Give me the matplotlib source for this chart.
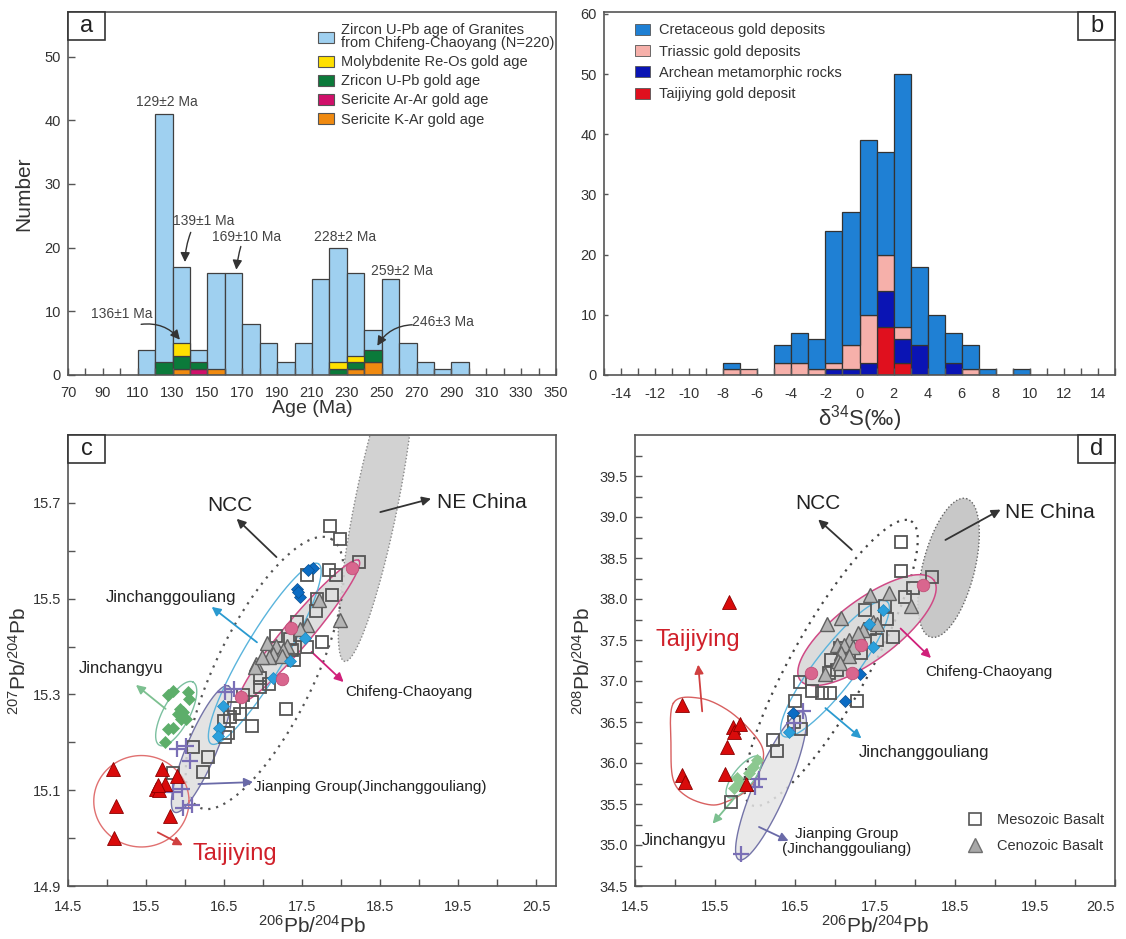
import numpy as np
import matplotlib
matplotlib.use('Agg')
import matplotlib.pyplot as plt
from matplotlib.patches import Rectangle, Patch
from matplotlib.lines import Line2D

plt.rcParams['font.family'] = ['Liberation Sans', 'DejaVu Sans']
plt.rcParams['mathtext.fontset'] = 'custom'
plt.rcParams['mathtext.rm'] = 'Liberation Sans'
plt.rcParams['mathtext.it'] = 'Liberation Sans:italic'
plt.rcParams['axes.unicode_minus'] = False

# ---------------- Panel a data ----------------
age_bins = np.arange(110, 300, 10)
granite_counts = [4, 41, 17, 4, 16, 16, 8, 5, 2, 5, 15, 20, 16, 7, 15, 5, 2, 1, 2]
sericite_kar = [0, 0, 1, 0, 1, 0, 0, 0, 0, 0, 0, 0, 1, 2, 0, 0, 0, 0, 0]
sericite_arar = [0, 0, 0, 1, 0, 0, 0, 0, 0, 0, 0, 0, 0, 0, 0, 0, 0, 0, 0]
zircon_gold = [0, 2, 2, 1, 0, 0, 0, 0, 0, 0, 0, 1, 1, 2, 0, 0, 0, 0, 0]
molybdenite = [0, 0, 2, 0, 0, 0, 0, 0, 0, 0, 0, 1, 1, 0, 0, 0, 0, 0, 0]
age_labels = ['129±2 Ma', '139±1 Ma', '169±10 Ma', '228±2 Ma', '259±2 Ma', '136±1 Ma', '246±3 Ma']

# ---------------- Panel b data ----------------
s_bins = np.arange(-8, 10)
taijiying_s = [0, 0, 0, 0, 0, 0, 0, 0, 0, 8, 2, 0, 0, 0, 0, 0, 0, 0]
archean_s = [0, 0, 0, 0, 0, 0, 1, 1, 2, 6, 4, 5, 0, 2, 0, 0, 0, 0]
triassic_s = [1, 1, 0, 2, 2, 1, 1, 4, 8, 6, 2, 0, 0, 0, 1, 0, 0, 0]
cretaceous_s = [1, 0, 0, 3, 5, 5, 22, 22, 29, 17, 42, 13, 10, 5, 4, 1, 0, 1]

# ---------------- Panel c data (206Pb/204Pb vs 207Pb/204Pb) ----------------
c_tai_x = [15.07, 15.12, 15.09, 15.71, 15.89, 15.63, 15.67, 15.74, 15.80, 15.65]
c_tai_y = [15.145, 15.067, 15.000, 15.145, 15.130, 15.103, 15.100, 15.113, 15.046, 15.110]
c_jcy_x = [15.78, 15.85, 16.04, 16.05, 15.93, 15.97, 15.91, 16.01, 15.95, 15.78, 15.85, 15.74]
c_jcy_y = [15.298, 15.308, 15.306, 15.291, 15.270, 15.263, 15.260, 15.249, 15.249, 15.228, 15.230, 15.200]
c_jp_x = [15.89, 16.01, 16.06, 15.84, 15.96, 15.97, 16.09, 16.51, 16.63]
c_jp_y = [15.186, 15.193, 15.162, 15.096, 15.103, 15.062, 15.069, 15.306, 15.312]
c_jcgl_x = [17.53, 17.34, 17.13, 16.49, 16.44, 16.42]
c_jcgl_y = [15.418, 15.371, 15.334, 15.277, 15.230, 15.214]
c_jcgd_x = [17.64, 17.58, 17.43, 17.47, 17.45]
c_jcgd_y = [15.564, 15.559, 15.521, 15.503, 15.514]
c_cfc_x = [18.14, 17.36, 17.24, 16.72]
c_cfc_y = [15.564, 15.439, 15.333, 15.294]
c_ceno_x = [17.71, 17.98, 17.56, 17.47, 17.05, 17.17, 17.30, 17.25, 17.13, 17.07, 16.91, 16.89, 17.24, 16.98]
c_ceno_y = [15.497, 15.455, 15.446, 15.437, 15.408, 15.401, 15.401, 15.392, 15.385, 15.378, 15.364, 15.357, 15.381, 15.378]
c_meso_x = [17.85, 17.99, 18.23, 17.56, 17.84, 17.93, 17.88, 17.69, 17.68, 17.43, 17.17, 17.34, 17.47, 17.56,
            17.75, 17.37, 17.39, 16.96, 17.07, 16.96, 16.74, 16.86, 16.70, 16.62, 16.50, 16.57, 16.51, 16.55,
            16.86, 17.29, 16.10, 16.29, 16.23, 15.84]
c_meso_y = [15.652, 15.624, 15.577, 15.550, 15.559, 15.550, 15.508, 15.499, 15.474, 15.451, 15.423, 15.416,
            15.425, 15.399, 15.409, 15.392, 15.373, 15.334, 15.322, 15.315, 15.298, 15.284, 15.260, 15.271,
            15.244, 15.253, 15.211, 15.220, 15.234, 15.270, 15.190, 15.169, 15.139, 15.136]

# ---------------- Panel d data (206Pb/204Pb vs 208Pb/204Pb) ----------------
d_tai_x = [15.67, 15.09, 15.09, 15.13, 15.72, 15.74, 15.81, 15.65, 15.63, 15.89]
d_tai_y = [37.96, 36.71, 35.85, 35.77, 36.44, 36.38, 36.48, 36.20, 35.87, 35.75]
d_jcy_x = [16.02, 15.98, 15.92, 15.77, 15.74, 15.81]
d_jcy_y = [36.04, 35.95, 35.88, 35.82, 35.70, 35.76]
d_jp_x = [16.05, 16.00, 16.60, 16.49, 15.83]
d_jp_y = [35.80, 35.71, 36.63, 36.49, 34.89]
d_jcgl_x = [16.42, 17.48, 17.43, 17.60]
d_jcgl_y = [36.38, 37.41, 37.70, 37.87]
d_jcgd_x = [16.47, 17.13, 17.31]
d_jcgd_y = [36.61, 36.76, 37.09]
d_cfc_x = [16.70, 17.21, 17.33, 18.10]
d_cfc_y = [37.10, 37.10, 37.44, 38.17]
d_ceno_x = [17.44, 17.68, 17.08, 16.90, 17.48, 17.53, 17.35, 17.17, 17.02, 17.11, 17.23, 17.08, 17.17,
            17.04, 16.87, 17.06, 17.95, 17.29]
d_ceno_y = [38.05, 38.07, 37.77, 37.70, 37.72, 37.70, 37.62, 37.50, 37.44, 37.44, 37.42, 37.34, 37.30,
            37.24, 37.09, 37.22, 37.91, 37.58]
d_meso_x = [17.82, 17.83, 18.21, 17.97, 17.88, 17.63, 17.38, 17.65, 17.44, 17.52, 17.73, 17.06, 17.33, 17.02,
            16.56, 16.71, 16.84, 16.94, 17.27, 16.50, 16.58, 16.49, 16.23, 16.28, 15.70, 16.93, 15.93, 16.95]
d_meso_y = [38.70, 38.34, 38.27, 38.13, 38.03, 37.91, 37.87, 37.76, 37.63, 37.50, 37.54, 37.40, 37.34, 37.13,
            36.99, 36.88, 36.85, 36.85, 36.76, 36.76, 36.42, 36.50, 36.28, 36.15, 35.53, 37.10, 35.73, 37.26]

# ---------------- colours ----------------
C_GRAN = '#9fd0f0'
C_MO, C_ZRN, C_ARAR, C_KAR = '#ffe000', '#0b7a3a', '#d0106a', '#f08a10'
C_CRET, C_TRI, C_ARCH, C_TAI = '#1f80d4', '#f6b0aa', '#0a14b4', '#e0101e'
C_RED = '#d90b0b'

W, H = 1126, 939
fig = plt.figure(figsize=(W / 100, H / 100), dpi=100)
axa = fig.add_axes([68 / W, 1 - 375 / H, 488 / W, 363 / H])
axb = fig.add_axes([604 / W, 1 - 375 / H, 511 / W, 363 / H])
axc = fig.add_axes([68 / W, 1 - 886 / H, 488 / W, 451 / H])
axd = fig.add_axes([635 / W, 1 - 886 / H, 480 / W, 451 / H])


def panel_label(ax, s, wpx, hpx, right=False):
    w, h = 37 / wpx, 28 / hpx
    x0 = 1 - w if right else 0
    ax.add_patch(Rectangle((x0, 1 - h), w, h, transform=ax.transAxes, fc='white', ec='#333333',
                           lw=1.2, zorder=20, clip_on=False))
    ax.text(x0 + w / 2, 1 - h / 2, s, transform=ax.transAxes, ha='center', va='center',
            fontsize=17, color='#222222', zorder=21)


def style(ax, xpad=4):
    for sp in ax.spines.values():
        sp.set_color('#555555')
        sp.set_linewidth(1.2)
    ax.tick_params(which='both', direction='in', length=5, width=1, color='#555555',
                   labelsize=10.5, labelcolor='#333333', top=False, right=False)
    ax.tick_params(axis='x', which='both', pad=xpad)
    ax.tick_params(axis='y', which='both', pad=5)


# ================= Panel a =================
style(axa, xpad=8)
axa.bar(age_bins, granite_counts, width=10, align='edge', color=C_GRAN, edgecolor='#404040', lw=0.9)
bot = np.zeros(len(age_bins))
for vals, col in [(sericite_kar, C_KAR), (sericite_arar, C_ARAR), (zircon_gold, C_ZRN), (molybdenite, C_MO)]:
    v = np.array(vals, float)
    m = v > 0
    axa.bar(age_bins[m], v[m], bottom=bot[m], width=10, align='edge', color=col, edgecolor='#404040', lw=0.9)
    bot += v
axa.set_xlim(70, 350)
axa.set_ylim(0, 57)
axa.set_xticks(np.arange(70, 351, 20))
axa.set_xticks(np.arange(80, 350, 20), minor=True)
axa.set_yticks(np.arange(0, 51, 10))
axa.set_xlabel('Age (Ma)', fontsize=14, color='#333333', labelpad=0)
axa.set_ylabel('Number', fontsize=15, color='#333333', labelpad=8)
tk = dict(fontsize=10, color='#444444', ha='center', va='center')
axa.text(126.6, 42.8, age_labels[0], **tk)
axa.text(147.6, 24.2, age_labels[1], **tk)
axa.text(172.5, 21.6, age_labels[2], **tk)
axa.text(228.9, 21.6, age_labels[3], **tk)
axa.text(261.4, 16.4, age_labels[4], **tk)
axa.text(100.8, 9.6, age_labels[5], **tk)
axa.text(285.3, 8.4, age_labels[6], **tk)
ap = dict(arrowstyle='-|>', color='#333333', lw=1.0, mutation_scale=14)
axa.annotate('', xy=(137.1, 17.3), xytext=(141.0, 22.8), arrowprops=dict(ap, connectionstyle='arc3,rad=0.1'))
axa.annotate('', xy=(166.4, 16.1), xytext=(169.6, 20.6), arrowprops=dict(ap, connectionstyle='arc3,rad=0.05'))
axa.annotate('', xy=(135.2, 5.2), xytext=(110.4, 7.9), arrowprops=dict(ap, connectionstyle='arc3,rad=-0.3'))
axa.annotate('', xy=(246.7, 4.2), xytext=(269.1, 7.9), arrowprops=dict(ap, connectionstyle='arc3,rad=0.3'))
hand_a = [Patch(fc=C_GRAN, ec='#555555', lw=0.8), Patch(fc=C_MO, ec='#555555', lw=0.8),
          Patch(fc=C_ZRN, ec='#555555', lw=0.8), Patch(fc=C_ARAR, ec='#555555', lw=0.8),
          Patch(fc=C_KAR, ec='#555555', lw=0.8)]
lab_a = ['Zircon U-Pb age of Granites\nfrom Chifeng-Chaoyang (N=220)', 'Molybdenite Re-Os gold age',
         'Zricon U-Pb gold age', 'Sericite Ar-Ar gold age', 'Sericite K-Ar gold age']
leg = axa.legend(hand_a, lab_a, loc='upper left', bbox_to_anchor=(0.50, 0.985), frameon=False,
                 fontsize=10.5, handlelength=1.1, handleheight=0.8, handletextpad=0.5, labelspacing=0.35,
                 borderaxespad=0)
for t in leg.get_texts():
    t.set_color('#333333')
    t.set_linespacing(0.9)
panel_label(axa, 'a', 488, 363)

# ================= Panel b =================
style(axb, xpad=9)
bot = np.zeros(len(s_bins))
for vals, col in [(taijiying_s, C_TAI), (archean_s, C_ARCH), (triassic_s, C_TRI), (cretaceous_s, C_CRET)]:
    v = np.array(vals, float)
    m = v > 0
    axb.bar(s_bins[m], v[m], bottom=bot[m], width=1, align='edge', color=col, edgecolor='#333333', lw=0.9)
    bot += v
axb.set_xlim(-15, 15)
axb.set_ylim(0, 60.3)
axb.set_xticks(np.arange(-14, 15, 2))
axb.set_xticks(np.arange(-15, 16, 1), minor=True)
axb.set_yticks(np.arange(0, 61, 10))
axb.tick_params(axis='y', length=3)
axb.set_xlabel('δ$^{34}$S(‰)', fontsize=16, color='#333333', labelpad=1)
hand_b = [Patch(fc=C_CRET, ec='#555555', lw=0.6), Patch(fc=C_TRI, ec='#555555', lw=0.6),
          Patch(fc=C_ARCH, ec='#555555', lw=0.6), Patch(fc=C_TAI, ec='#555555', lw=0.6)]
lab_b = ['Cretaceous gold deposits', 'Triassic gold deposits', 'Archean metamorphic rocks', 'Taijiying gold deposit']
leg = axb.legend(hand_b, lab_b, loc='upper left', bbox_to_anchor=(0.05, 0.985), frameon=False,
                 fontsize=10.5, handlelength=1.0, handleheight=0.8, handletextpad=0.6, labelspacing=0.5,
                 borderaxespad=0)
for t in leg.get_texts():
    t.set_color('#333333')
panel_label(axb, 'b', 511, 363, right=True)


# ================= helpers for c/d =================
def ellipse(ax, c, u, v, fc='none', ec='k', lw=1.0, ls='-', z=1, alpha=1.0):
    t = np.linspace(0, 2 * np.pi, 300)
    x = c[0] + u[0] * np.cos(t) + v[0] * np.sin(t)
    y = c[1] + u[1] * np.cos(t) + v[1] * np.sin(t)
    if fc != 'none':
        ax.fill(x, y, color=fc, alpha=alpha, lw=0, zorder=z)
    ax.plot(x, y, color=ec, lw=lw, ls=ls, zorder=z + 0.1)


def closed_curve(ax, px, py, ec, lw=1.0, z=1):
    px = np.asarray(px, float)
    py = np.asarray(py, float)
    n = len(px)
    xs, ys = [], []
    for i in range(n):
        p0 = np.array([px[i - 1], py[i - 1]])
        p1 = np.array([px[i], py[i]])
        p2 = np.array([px[(i + 1) % n], py[(i + 1) % n]])
        p3 = np.array([px[(i + 2) % n], py[(i + 2) % n]])
        for t in np.linspace(0, 1, 20, endpoint=False):
            pt = 0.5 * ((2 * p1) + (-p0 + p2) * t + (2 * p0 - 5 * p1 + 4 * p2 - p3) * t ** 2 +
                        (-p0 + 3 * p1 - 3 * p2 + p3) * t ** 3)
            xs.append(pt[0])
            ys.append(pt[1])
    xs.append(xs[0])
    ys.append(ys[0])
    ax.plot(xs, ys, color=ec, lw=lw, zorder=z)


def arrow(ax, start, end, col, lw=1.3):
    ax.annotate('', xy=end, xytext=start,
                arrowprops=dict(arrowstyle='-|>', color=col, lw=lw, mutation_scale=13, shrinkA=0, shrinkB=0))


def points(ax, d):
    kw = dict(ls='none', zorder=5)
    ax.plot(d['meso'][0], d['meso'][1], marker='s', ms=9, mfc='none', mec='#555555', mew=1.3, **kw)
    ax.plot(d['ceno'][0], d['ceno'][1], marker='^', ms=10, mfc='#b4b4b4', mec='#606060', mew=1.0, **kw)
    ax.plot(d['jcy'][0], d['jcy'][1], marker='D', ms=6.5, mfc=d['jcycol'], mec=d['jcycol'], mew=0.5, **kw)
    ax.plot(d['jp'][0], d['jp'][1], marker='+', ms=11, mec='#7a6fb6', mew=1.6, **kw)
    ax.plot(d['jcgl'][0], d['jcgl'][1], marker='D', ms=6, mfc='#2ca0dc', mec='#1d88c0', mew=0.5, **kw)
    ax.plot(d['jcgd'][0], d['jcgd'][1], marker='D', ms=6.5, mfc='#0b6cc4', mec='#0a4f90', mew=0.5, **kw)
    ax.plot(d['cfc'][0], d['cfc'][1], marker='o', ms=9, mfc='#d9668e', mec='#c05078', mew=0.6, **kw)
    ax.plot(d['tai'][0], d['tai'][1], marker='^', ms=10, mfc=C_RED, mec='#8a0000', mew=0.6, **kw)


# ================= Panel c =================
style(axc, xpad=10)
axc.set_xlim(14.5, 20.75)
axc.set_ylim(14.9, 15.842)
axc.set_xticks(np.arange(14.5, 20.6, 1.0))
axc.set_xticks(np.arange(15.0, 20.6, 1.0), minor=True)
axc.set_yticks(np.arange(14.9, 15.71, 0.2))
axc.set_yticks(np.arange(15.0, 15.81, 0.2), minor=True)
axc.set_xticklabels(['14.5', '15.5', '16.5', '17.5', '18.5', '19.5', '20.5'])
axc.set_yticklabels(['14.9', '15.1', '15.3', '15.5', '15.7'])
axc.set_xlabel('$^{206}$Pb/$^{204}$Pb', fontsize=15, color='#333333', labelpad=1)
axc.set_ylabel('$^{207}$Pb/$^{204}$Pb', fontsize=15, color='#333333', labelpad=2)

ellipse(axc, (18.45, 15.70), (0.42, 0.33), (0.25, -0.025), fc='#d2d2d2', ec='#888888', lw=1.0, ls=(0, (1, 1.5)), z=0.5)
ellipse(axc, (17.02, 15.345), (0.85, 0.28), (0.55, -0.05), ec='#555555', lw=1.6, ls=(0, (1, 2.6)), z=1)
ellipse(axc, (17.46, 15.432), (0.764, 0.148), (0.133, -0.018), fc='#dadada', ec='#d04a86', lw=1.1, z=1.2, alpha=0.85)
ellipse(axc, (16.21, 15.186), (0.343, 0.132), (0.177, -0.0122), fc='#dedede', ec='#7474a8', lw=1.0, z=1.3, alpha=0.85)
ellipse(axc, (17.02, 15.385), (0.687, 0.188), (0.223, -0.0216), ec='#5ab4dc', lw=1.0, z=1.4)
ellipse(axc, (15.886, 15.26), (0.215, 0.066), (0.152, -0.013), ec='#7cc0a0', lw=1.0, z=1.4)
ellipse(axc, (15.44, 15.077), (0.61, 0.0), (0.0, 0.0955), ec='#e07070', lw=1.0, z=1.4)

points(axc, dict(meso=(c_meso_x, c_meso_y), ceno=(c_ceno_x, c_ceno_y), jcy=(c_jcy_x, c_jcy_y),
                 jcycol='#5dae6a', jp=(c_jp_x, c_jp_y), jcgl=(c_jcgl_x, c_jcgl_y),
                 jcgd=(c_jcgd_x, c_jcgd_y), cfc=(c_cfc_x, c_cfc_y), tai=(c_tai_x, c_tai_y)))

axc.text(16.57, 15.695, 'NCC', fontsize=15, ha='center', va='center', color='#222222')
arrow(axc, (17.17, 15.587), (16.66, 15.667), '#333333')
axc.text(19.23, 15.702, 'NE China', fontsize=15, ha='left', va='center', color='#222222')
arrow(axc, (18.50, 15.681), (19.15, 15.709), '#333333')
axc.text(15.82, 15.503, 'Jinchanggouliang', fontsize=12, ha='center', va='center', color='#222222')
arrow(axc, (16.92, 15.409), (16.34, 15.483), '#2a9ad0')
axc.text(15.18, 15.354, 'Jinchangyu', fontsize=12, ha='center', va='center', color='#222222')
arrow(axc, (15.75, 15.27), (15.37, 15.32), '#7cc090')
axc.text(18.05, 15.306, 'Chifeng-Chaoyang', fontsize=11, ha='left', va='center', color='#222222')
arrow(axc, (17.62, 15.389), (18.03, 15.326), '#d0207a')
axc.text(16.88, 15.106, 'Jianping Group(Jinchanggouliang)', fontsize=11, ha='left', va='center', color='#222222')
arrow(axc, (16.17, 15.113), (16.87, 15.117), '#6a6aa8')
axc.text(16.1, 14.967, 'Taijiying', fontsize=17, ha='left', va='center', color='#d0202a')
arrow(axc, (15.65, 15.012), (15.97, 14.985), '#d04040')
panel_label(axc, 'c', 488, 451)

# ================= Panel d =================
style(axd, xpad=10)
axd.set_xlim(14.5, 20.5)
axd.set_ylim(34.5, 40.0)
axd.set_xticks(np.arange(14.5, 20.6, 1.0))
axd.set_xticks(np.arange(15.0, 20.6, 1.0), minor=True)
axd.set_yticks(np.arange(34.5, 39.6, 0.5))
axd.set_yticks(np.arange(34.75, 39.9, 0.5), minor=True)
axd.set_xticklabels(['14.5', '15.5', '16.5', '17.5', '18.5', '19.5', '20.5'])
axd.set_yticklabels(['%.1f' % v for v in np.arange(34.5, 39.6, 0.5)])
for lab in axd.get_xticklabels()[-1:]:
    lab.set_horizontalalignment('right')
axd.set_xlabel('$^{206}$Pb/$^{204}$Pb', fontsize=15, color='#333333', labelpad=1)
axd.set_ylabel('$^{208}$Pb/$^{204}$Pb', fontsize=15, color='#333333', labelpad=4)

ellipse(axd, (18.42, 38.38), (0.22, 0.845), (0.315, -0.078), fc='#c8c8c8', ec='#666666', lw=1.0, ls=(0, (1, 1.5)), z=0.5)
ellipse(axd, (16.95, 37.22), (1.0, 1.73), (0.42, -0.23), ec='#444444', lw=1.6, ls=(0, (1, 2.6)), z=1)
ellipse(axd, (17.4, 37.62), (0.835, 0.61), (0.225, -0.293), fc='#d6d6d6', ec='#d04a86', lw=1.1, z=1.2, alpha=0.85)
ellipse(axd, (16.2, 35.72), (0.40, 0.90), (0.19, -0.08), fc='#e6e6e6', ec='#7474a8', lw=1.0, z=1.3, alpha=0.85)
ellipse(axd, (17.0, 37.15), (0.65, 0.82), (0.20, -0.15), ec='#5ab4dc', lw=1.0, z=1.4)
ellipse(axd, (15.86, 35.83), (0.2, 0.245), (0.098, -0.076), ec='#7cc0a0', lw=1.0, z=1.4)
tai_outline_x = [14.98, 15.31, 15.65, 15.94, 16.10, 16.06, 15.90, 15.65, 15.44, 15.15, 14.98, 14.95]
tai_outline_y = [36.73, 36.79, 36.65, 36.40, 36.16, 35.91, 35.67, 35.53, 35.49, 35.59, 35.79, 36.20]
closed_curve(axd, tai_outline_x, tai_outline_y, '#d86060', lw=1.0, z=1.4)

points(axd, dict(meso=(d_meso_x, d_meso_y), ceno=(d_ceno_x, d_ceno_y), jcy=(d_jcy_x, d_jcy_y),
                 jcycol='#8cc890', jp=(d_jp_x, d_jp_y), jcgl=(d_jcgl_x, d_jcgl_y),
                 jcgd=(d_jcgd_x, d_jcgd_y), cfc=(d_cfc_x, d_cfc_y), tai=(d_tai_x, d_tai_y)))

axd.text(16.79, 39.17, 'NCC', fontsize=15, ha='center', va='center', color='#222222')
arrow(axd, (17.21, 38.60), (16.79, 38.97), '#333333')
axd.text(19.13, 39.06, 'NE China', fontsize=15, ha='left', va='center', color='#222222')
arrow(axd, (18.38, 38.72), (19.07, 39.09), '#333333')
axd.text(15.28, 37.5, 'Taijiying', fontsize=17, ha='center', va='center', color='#d0202a')
arrow(axd, (15.34, 36.63), (15.29, 37.20), '#d04040')
axd.text(18.13, 37.11, 'Chifeng-Chaoyang', fontsize=11, ha='left', va='center', color='#222222')
arrow(axd, (17.82, 37.64), (18.20, 37.28), '#d0207a')
axd.text(17.30, 36.13, 'Jinchanggouliang', fontsize=12, ha='left', va='center', color='#222222')
arrow(axd, (16.88, 36.67), (17.33, 36.30), '#2a9ad0')
axd.text(15.11, 35.06, 'Jinchangyu', fontsize=12, ha='center', va='center', color='#222222')
arrow(axd, (15.74, 35.57), (15.47, 35.26), '#7cc090')
axd.text(17.15, 35.04, 'Jianping Group\n(Jinchanggouliang)', fontsize=11, ha='center', va='center',
         color='#222222', linespacing=1.1)
arrow(axd, (16.05, 35.22), (16.42, 35.05), '#6a6aa8')
hand_d = [Line2D([], [], ls='none', marker='s', ms=9, mfc='none', mec='#555555', mew=1.2),
          Line2D([], [], ls='none', marker='^', ms=10, mfc='#a8a8a8', mec='#707070', mew=1.0)]
leg = axd.legend(hand_d, ['Mesozoic Basalt', 'Cenozoic Basalt'], loc='lower right',
                 bbox_to_anchor=(0.99, 0.06), frameon=False, fontsize=10.5, handletextpad=0.5,
                 labelspacing=0.8, borderaxespad=0)
for t in leg.get_texts():
    t.set_color('#333333')
panel_label(axd, 'd', 480, 451, right=True)

fig.savefig('out.png', dpi=100)
